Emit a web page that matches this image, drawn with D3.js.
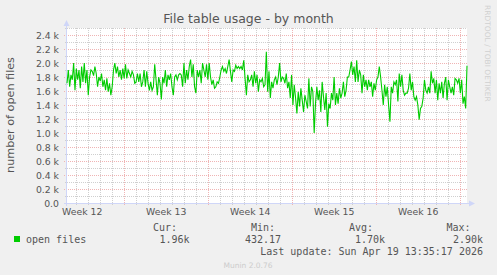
<!DOCTYPE html>
<html>
<head>
<meta charset="utf-8">
<script src="https://cdn.jsdelivr.net/npm/d3@7"></script>
<style>
    html, body { margin: 0; padding: 0; background: #f0f0f0; }
    svg { display: block; }
</style>
</head>
<body>
<svg id="chart" width="497" height="275"></svg>
<script>
// chart texts
const titleText = "File table usage - by month";
const yAxisTitle = "number of open files";
const seriesName = "open files";
const lastUpdateText = "Last update: Sun Apr 19 13:35:17 2026";
const footerText = "Munin 2.0.76";
const sideText = "RRDTOOL / TOBI OETIKER";

// time span: 800 hours ending at last update
const lastUpdate = new Date(2026, 3, 19, 13, 35, 17);
const spanHours = 800;

// open files, in thousands, evenly spaced over the span
const openFilesK = [
    1.71, 1.90, 1.66, 1.83, 1.76, 2.00, 1.61, 1.92, 1.76, 1.90,
    1.64, 1.95, 1.73, 2.00, 1.71, 1.90, 1.54, 1.80, 1.90, 1.88,
    1.82, 1.95, 1.85, 1.66, 1.80, 1.74, 1.85, 1.66, 1.76, 1.61,
    1.78, 1.59, 1.71, 1.54, 1.66, 1.90, 2.00, 1.85, 1.95, 1.80,
    1.90, 1.76, 1.92, 1.78, 1.98, 1.78, 1.90, 1.85, 1.80, 1.88,
    1.83, 1.71, 1.73, 1.85, 1.73, 1.85, 1.66, 1.73, 1.90, 1.66,
    1.88,
    1.71, 1.61, 1.73, 1.61, 1.66, 1.98, 1.76, 1.54, 1.80, 1.71,
    1.48, 1.80, 1.71, 1.90, 1.66, 1.83, 1.76, 1.85, 1.66, 1.54,
    1.80, 1.83, 1.76, 1.83, 1.85, 1.83, 1.66, 2.00, 1.71, 1.90,
    1.76, 1.95, 2.05, 1.80, 1.98, 1.66, 1.57, 1.90, 1.80, 1.90,
    1.71, 2.00, 1.90, 1.80, 1.98, 1.76, 2.00, 1.80, 1.69, 1.76,
    1.64, 1.66, 1.73, 1.71, 1.80, 1.90, 1.95, 1.88, 1.92, 1.85,
    1.95, 2.05,
    1.88, 1.73, 1.90, 1.88, 1.97, 1.92, 1.95, 1.92, 1.95, 1.90,
    2.04, 1.78, 1.54, 1.83, 1.73, 1.76, 1.83, 1.66, 1.88, 1.71,
    1.83, 1.59, 1.76, 1.73, 1.78, 1.66, 1.69, 2.16, 1.59, 1.88,
    1.50, 1.73, 1.64, 1.76, 1.80, 1.69, 1.80, 2.00, 1.73, 1.80,
    1.78, 1.71, 1.85, 1.64, 1.73, 1.50, 1.83, 1.40, 1.69, 1.50,
    1.28, 1.59, 1.38, 1.64, 1.47, 1.30, 1.54, 1.45, 1.35, 1.78,
    1.38, 1.66, 1.59,
    1.00, 1.42, 1.66, 1.47, 1.61, 1.30, 1.73, 1.52, 1.33, 1.57,
    1.09, 1.42, 1.35, 1.57, 1.47, 1.80, 1.40, 1.57, 1.42, 1.64,
    1.50, 1.57, 1.73, 1.52, 1.61, 1.80, 1.80, 1.90, 2.02, 1.83,
    1.95, 1.73, 2.04, 1.73, 1.90, 1.83, 1.57, 1.83, 1.66, 1.76,
    1.61, 1.76, 1.66, 1.73, 1.52, 1.71, 1.61, 1.76, 1.80, 1.95,
    1.80, 1.61, 1.40, 1.69, 1.52, 1.66, 1.40, 1.16, 1.66, 1.57,
    1.73, 1.69, 1.76, 1.45, 1.85, 1.66, 1.83, 1.61, 1.54, 1.57,
    1.57, 1.64, 1.85, 1.61, 1.73, 1.52, 1.47, 1.52, 1.40, 1.19,
    1.35, 1.38, 1.50, 1.76, 1.61, 1.57, 1.66, 1.57, 1.88, 1.71,
    1.78, 1.57, 1.76, 1.47, 1.71, 1.57, 1.73, 1.50, 1.71, 1.80,
    1.47, 1.76, 1.66, 1.57, 1.66, 1.54, 1.78, 1.76, 1.71, 1.78,
    1.57, 1.76, 1.42, 1.52, 1.35, 1.96
];

// y axis ticks (thousands)
const yMajorTicks = [0, 0.2, 0.4, 0.6, 0.8, 1.0, 1.2, 1.4, 1.6, 1.8, 2.0, 2.2, 2.4];
const yMinorTicks = [0.1, 0.3, 0.5, 0.7, 0.9, 1.1, 1.3, 1.5, 1.7, 1.9, 2.1, 2.3, 2.5];
const yMax = 2.5;

// legend
const legendHeads = ["Cur:", "Min:", "Avg:", "Max:"];
const legendValues = ["1.96k", "432.17", "1.70k", "2.90k"];

document.addEventListener("DOMContentLoaded", function() {
    const svg = d3.select("#chart");
    const left = 67, right = 467, top = 28, bottom = 203;

    const end = lastUpdate;
    const start = new Date(end.getTime() - spanHours * 3600 * 1000);
    const step = (end - start) / (openFilesK.length - 1);
    const times = openFilesK.map((d, i) => new Date(start.getTime() + i * step));

    const x = d3.scaleTime().domain([start, end]).range([left, right]);
    const y = d3.scaleLinear().domain([0, yMax]).range([bottom, top]);

    const minorColor = "#cfcfcf";
    const majorColor = "#f0b4b4";
    const axisColor = "#cfd6f8";
    const fontColor = "#555";

    // canvas
    svg.append("rect")
        .attr("x", left).attr("y", top)
        .attr("width", right - left).attr("height", bottom - top)
        .attr("fill", "#fff");

    const grid = svg.append("g").attr("shape-rendering", "crispEdges");

    // minor horizontal
    grid.selectAll(".hmin").data(yMinorTicks).enter().append("line")
        .attr("x1", left - 2).attr("x2", right)
        .attr("y1", d => Math.round(y(d)) + 0.5).attr("y2", d => Math.round(y(d)) + 0.5)
        .attr("stroke", minorColor).attr("stroke-dasharray", "1,1");

    // minor vertical (days)
    const days = d3.timeDay.range(start, end);
    grid.selectAll(".vmin").data(days).enter().append("line")
        .attr("x1", d => Math.round(x(d)) + 0.5).attr("x2", d => Math.round(x(d)) + 0.5)
        .attr("y1", top).attr("y2", bottom + 2)
        .attr("stroke", minorColor).attr("stroke-dasharray", "1,1");

    // major horizontal
    grid.selectAll(".hmaj").data(yMajorTicks).enter().append("line")
        .attr("x1", left - 3).attr("x2", right)
        .attr("y1", d => Math.round(y(d)) + 0.5).attr("y2", d => Math.round(y(d)) + 0.5)
        .attr("stroke", majorColor).attr("stroke-dasharray", "1,1");

    // major vertical (week starts)
    const weeks = d3.timeSunday.range(start, end);
    grid.selectAll(".vmaj").data(weeks).enter().append("line")
        .attr("x1", d => Math.round(x(d)) + 0.5).attr("x2", d => Math.round(x(d)) + 0.5)
        .attr("y1", top).attr("y2", bottom + 3)
        .attr("stroke", majorColor).attr("stroke-dasharray", "1,1");

    // axes
    const ax = svg.append("g").attr("shape-rendering", "crispEdges");
    ax.append("line")
        .attr("x1", left - 0.5).attr("x2", left - 0.5)
        .attr("y1", bottom + 3).attr("y2", top - 3)
        .attr("stroke", axisColor);
    ax.append("line")
        .attr("x1", left - 3).attr("x2", right + 3)
        .attr("y1", bottom + 0.5).attr("y2", bottom + 0.5)
        .attr("stroke", axisColor);
    svg.append("path")
        .attr("d", `M${left - 3.5},${top - 2} L${left - 0.5},${top - 8} L${left + 2.5},${top - 2} Z`)
        .attr("fill", axisColor);
    svg.append("path")
        .attr("d", `M${right + 2},${bottom - 2.5} L${right + 8},${bottom + 0.5} L${right + 2},${bottom + 3.5} Z`)
        .attr("fill", axisColor);

    // y tick labels
    svg.selectAll(".ylab").data(yMajorTicks).enter().append("text")
        .attr("x", 59).attr("y", d => y(d) + 3.5)
        .attr("text-anchor", "end")
        .attr("font-family", "DejaVu Sans").attr("font-size", 9.3)
        .attr("fill", fontColor)
        .text(d => d === 0 ? "0.0" : d3.format(".1f")(d) + " k");

    // week labels at the middle of each week
    const weekFmt = d3.timeFormat("%V");
    const weekMids = d3.timeSunday.range(d3.timeSunday.floor(start), end)
        .map(d => new Date(d.getTime() + 3.5 * 86400000))
        .filter(d => d >= start && d <= end);
    svg.selectAll(".xlab").data(weekMids).enter().append("text")
        .attr("x", d => x(d)).attr("y", 215)
        .attr("text-anchor", "middle")
        .attr("font-family", "DejaVu Sans").attr("font-size", 9.3)
        .attr("fill", fontColor)
        .text(d => "Week " + (+weekFmt(d)));

    // series line
    const line = d3.line()
        .x((d, i) => x(times[i]))
        .y(d => y(d));
    svg.append("path")
        .datum(openFilesK)
        .attr("fill", "none")
        .attr("stroke", "#00cc00")
        .attr("stroke-width", 1.1)
        .attr("d", line);

    // title
    svg.append("text")
        .attr("x", 248.5).attr("y", 23)
        .attr("text-anchor", "middle")
        .attr("font-family", "DejaVu Sans").attr("font-size", 12.5)
        .attr("fill", fontColor)
        .text(titleText);

    // y axis title
    svg.append("text")
        .attr("transform", "translate(14,115) rotate(-90)")
        .attr("text-anchor", "middle")
        .attr("font-family", "DejaVu Sans").attr("font-size", 11.2)
        .attr("fill", fontColor)
        .text(yAxisTitle);

    // side credit
    svg.append("text")
        .attr("transform", "translate(485,5) rotate(90)")
        .attr("font-family", "DejaVu Sans").attr("font-size", 7.5)
        .attr("fill", "#d0d0d0")
        .text(sideText);

    // legend
    const mono = "DejaVu Sans Mono";
    svg.append("rect")
        .attr("x", 14).attr("y", 236).attr("width", 6).attr("height", 6)
        .attr("fill", "#00cc00");
    svg.append("text")
        .attr("x", 26).attr("y", 243)
        .attr("font-family", mono).attr("font-size", 10)
        .attr("fill", fontColor)
        .text(seriesName);

    const headEnds = [177, 275, 373, 470.5];
    const valueEnds = [189.5, 281, 385, 483];
    legendHeads.forEach((h, i) => {
        svg.append("text")
            .attr("x", headEnds[i]).attr("y", 231)
            .attr("text-anchor", "end")
            .attr("font-family", mono).attr("font-size", 10)
            .attr("fill", fontColor)
            .text(h);
        svg.append("text")
            .attr("x", valueEnds[i]).attr("y", 243)
            .attr("text-anchor", "end")
            .attr("font-family", mono).attr("font-size", 10)
            .attr("fill", fontColor)
            .text(legendValues[i]);
    });

    svg.append("text")
        .attr("x", 483).attr("y", 255)
        .attr("text-anchor", "end")
        .attr("font-family", mono).attr("font-size", 10)
        .attr("fill", fontColor)
        .text(lastUpdateText);

    svg.append("text")
        .attr("x", 248).attr("y", 268)
        .attr("text-anchor", "middle")
        .attr("font-family", "DejaVu Sans").attr("font-size", 7.5)
        .attr("fill", "#cccccc")
        .text(footerText);
});
</script>
</body>
</html>
